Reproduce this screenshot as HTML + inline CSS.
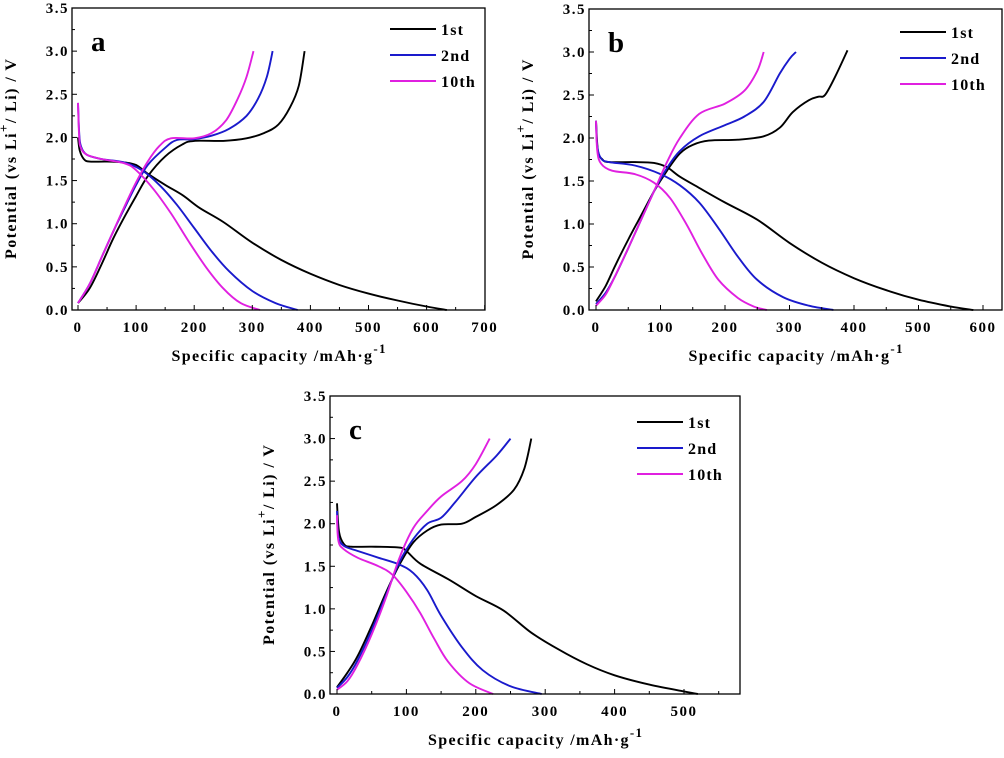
<!DOCTYPE html>
<html><head><meta charset="utf-8"><style>
body{margin:0;background:#fff;}
svg{display:block;font-family:"Liberation Serif",serif;font-weight:bold;}
</style></head><body>
<svg id="fig" width="1004" height="758" viewBox="0 0 1004 758" xmlns="http://www.w3.org/2000/svg"></svg>
<script>
// Panel a data
const aD1=[[0,2.0],[3,1.85],[10,1.75],[20,1.72],[50,1.72],[80,1.71],[100,1.68],[120,1.58],[150,1.45],[180,1.33],[210,1.18],[250,1.02],[300,0.78],[350,0.58],[400,0.42],[450,0.29],[500,0.19],[550,0.11],[600,0.04],[635,0]];
const aD2=[[0,2.4],[2,2.05],[5,1.9],[15,1.8],[40,1.75],[80,1.71],[110,1.62],[140,1.45],[170,1.22],[200,0.95],[230,0.68],[260,0.45],[300,0.22],[340,0.08],[378,0]];
const aD10=[[0,2.4],[2,2.0],[5,1.88],[15,1.8],[40,1.75],[80,1.7],[100,1.62],[130,1.4],[160,1.12],[190,0.8],[220,0.5],[250,0.25],[280,0.08],[313,0]];
const aC1=[[0,0.08],[20,0.25],[40,0.52],[60,0.82],[80,1.08],[100,1.32],[120,1.55],[150,1.78],[180,1.92],[200,1.96],[250,1.96],[290,1.99],[320,2.05],[345,2.15],[365,2.35],[380,2.6],[390,3.0]];
const aC2=[[0,0.08],[20,0.3],[40,0.6],[60,0.9],[80,1.18],[100,1.45],[120,1.68],[150,1.88],[170,1.97],[200,1.98],[230,2.02],[260,2.1],[290,2.25],[310,2.45],[325,2.7],[335,3.0]];
const aC10=[[0,0.08],[20,0.3],[40,0.6],[60,0.9],[80,1.2],[100,1.48],[120,1.72],[140,1.9],[160,1.99],[200,1.99],[230,2.05],[255,2.2],[275,2.45],[290,2.7],[302,3.0]];
// Panel b data
const bD1=[[0,2.2],[3,1.85],[10,1.75],[20,1.72],[60,1.72],[90,1.71],[110,1.66],[130,1.55],[160,1.42],[200,1.25],[250,1.05],[300,0.78],[350,0.55],[400,0.37],[450,0.23],[500,0.12],[550,0.04],[585,0]];
const bD2=[[0,2.2],[2,1.9],[8,1.76],[20,1.72],[60,1.68],[100,1.58],[130,1.45],[160,1.25],[190,0.95],[220,0.62],[250,0.35],[290,0.15],[330,0.05],[368,0]];
const bD10=[[0,2.2],[2,1.85],[8,1.7],[25,1.62],[60,1.58],[90,1.48],[115,1.3],[140,1.0],[165,0.65],[190,0.35],[220,0.14],[245,0.04],[265,0]];
const bC1=[[0,0.1],[15,0.28],[30,0.52],[50,0.82],[70,1.1],[90,1.38],[110,1.62],[130,1.82],[150,1.92],[175,1.97],[220,1.98],[260,2.02],[285,2.12],[305,2.3],[330,2.44],[345,2.48],[355,2.5],[370,2.7],[390,3.02]];
const bC2=[[0,0.07],[15,0.2],[30,0.4],[50,0.72],[70,1.05],[90,1.38],[110,1.65],[130,1.85],[160,2.02],[200,2.15],[230,2.25],[260,2.42],[285,2.75],[300,2.92],[310,3.0]];
const bC10=[[0,0.05],[15,0.18],[30,0.4],[50,0.72],[70,1.05],[90,1.38],[110,1.72],[130,2.0],[160,2.28],[200,2.4],[230,2.55],[250,2.78],[260,3.0]];
// Panel c data
const cD1=[[0,2.24],[3,1.9],[10,1.76],[20,1.73],[50,1.73],[90,1.72],[100,1.68],[120,1.53],[160,1.35],[200,1.15],[240,0.98],[280,0.72],[320,0.52],[360,0.35],[400,0.22],[450,0.11],[500,0.03],[520,0]];
const cD2=[[0,2.15],[2,1.85],[10,1.74],[30,1.68],[60,1.6],[90,1.52],[110,1.42],[130,1.22],[150,0.92],[180,0.55],[210,0.28],[250,0.09],[295,0]];
const cD10=[[0,2.1],[2,1.8],[10,1.7],[30,1.6],[60,1.5],[80,1.4],[100,1.2],[120,0.95],[140,0.65],[160,0.38],[190,0.13],[225,0]];
const cC1=[[0,0.08],[15,0.25],[30,0.45],[50,0.8],[70,1.18],[90,1.52],[110,1.78],[130,1.92],[150,1.99],[180,2.0],[200,2.08],[230,2.22],[255,2.4],[270,2.65],[280,3.0]];
const cC2=[[0,0.07],[15,0.2],[30,0.4],[50,0.75],[70,1.15],[90,1.55],[110,1.82],[130,2.0],[150,2.07],[170,2.25],[200,2.55],[230,2.8],[250,3.0]];
const cC10=[[0,0.05],[15,0.15],[30,0.35],[50,0.7],[70,1.12],[90,1.6],[110,1.95],[130,2.15],[150,2.32],[180,2.5],[200,2.7],[220,3.0]];

const yTicks=[0,0.5,1.0,1.5,2.0,2.5,3.0,3.5];
const aXTicks=[0,100,200,300,400,500,600,700];
const bXTicks=[0,100,200,300,400,500,600];
const cXTicks=[0,100,200,300,400,500];
const legendLabels=["1st","2nd","10th"];
const colors=["#000000","#1a1acc","#e020e0"];

const NS="http://www.w3.org/2000/svg";
const svg=document.getElementById('fig');
function mk(tag,attrs,parent){const e=document.createElementNS(NS,tag);for(const k in attrs)e.setAttribute(k,attrs[k]);(parent||svg).appendChild(e);return e;}
function smooth(pts){let d="M"+pts[0][0].toFixed(1)+","+pts[0][1].toFixed(1);
 for(let i=0;i<pts.length-1;i++){const p0=pts[i-1]||pts[i],p1=pts[i],p2=pts[i+1],p3=pts[i+2]||p2;
  const c1=[p1[0]+(p2[0]-p0[0])/6,p1[1]+(p2[1]-p0[1])/6],c2=[p2[0]-(p3[0]-p1[0])/6,p2[1]-(p3[1]-p1[1])/6];
  d+=" C"+c1.map(v=>v.toFixed(1))+" "+c2.map(v=>v.toFixed(1))+" "+p2.map(v=>v.toFixed(1));}
 return d;}

function panel(o){
 const g=mk('g',{});
 
 
 const sx=v=>o.x0px+(v)*(o.x100)/100, sy=v=>o.bottom-(v/3.5)*(o.bottom-o.top);
 const names=["1st","2nd","10th"];
 o.series.forEach((pair,i)=>{pair.forEach((arr,j)=>{
  const p=mk('path',{d:smooth(arr.map(q=>[sx(q[0]),sy(q[1])])),fill:'none',stroke:colors[i],'stroke-width':1.9},g);
  
  
 });});
 const fr=mk('rect',{x:o.left,y:o.top,width:o.right-o.left,height:o.bottom-o.top,fill:'none',stroke:'#000','stroke-width':1.3},g);
 
 
 yTicks.forEach((t,k)=>{const y=sy(t);
  mk('line',{x1:o.left,x2:o.left+5,y1:y,y2:y,stroke:'#000','stroke-width':1},g);
  if(k<yTicks.length-1){const ym=sy(t+0.25);mk('line',{x1:o.left,x2:o.left+3,y1:ym,y2:ym,stroke:'#000','stroke-width':1},g);}
  const tx=mk('text',{x:o.left-3,y:y+5,'text-anchor':'end','font-size':15,'letter-spacing':1.5},g);tx.textContent=t.toFixed(1);
  
  
 });
 o.xticks.forEach((t,k)=>{const x=sx(t);
  mk('line',{x1:x,x2:x,y1:o.bottom,y2:o.bottom-5,stroke:'#000','stroke-width':1},g);
  const xm=sx(t+50); if(xm<o.right) mk('line',{x1:xm,x2:xm,y1:o.bottom,y2:o.bottom-3,stroke:'#000','stroke-width':1},g);
  const tx=mk('text',{x:x,y:o.bottom+22,'text-anchor':'middle','font-size':15,'letter-spacing':1.5},g);tx.textContent=t;
  
  
 });
 const xt=mk('text',{x:(o.left+o.right)/2-107,y:o.bottom+51,'font-size':16,textLength:214,lengthAdjust:'spacing'},g);
 xt.innerHTML='Specific capacity /mAh·g<tspan dy="-8" font-size="13">-1</tspan>';
 
 
 const cy=(o.top+o.bottom)/2, cx=o.left-56;
 const yt=mk('text',{x:cx-100,y:cy,'font-size':16,textLength:200,lengthAdjust:'spacing',transform:`rotate(-90 ${cx} ${cy})`},g);
 yt.innerHTML='Potential (vs  Li<tspan dy="-8" font-size="13">+</tspan><tspan dy="8">/ Li) / V</tspan>';
 
 
 const lt=mk('text',{x:o.left+19,y:o.top+43,'font-size':29},g);lt.textContent=o.letter;
 
 
 legendLabels.forEach((l,i)=>{const y=o.legY+i*26;
  const ln=mk('line',{x1:o.legX,x2:o.legX+46,y1:y,y2:y,stroke:colors[i],'stroke-width':2},g);
  
  
  const t=mk('text',{x:o.legX+51,y:y+6,'font-size':16,'letter-spacing':1.2},g);t.textContent=l;
  
  
 });
}
panel({letter:'a',left:72,right:485,top:8,bottom:310,x0px:78,x100:58.1,xticks:aXTicks,legX:390,legY:29,
 series:[[aD1,aC1],[aD2,aC2],[aD10,aC10]]});
panel({letter:'b',left:589,right:1002,top:9,bottom:310,x0px:596,x100:64.5,xticks:bXTicks,legX:900,legY:32,
 series:[[bD1,bC1],[bD2,bC2],[bD10,bC10]]});
panel({letter:'c',left:330,right:740,top:396,bottom:694,x0px:337,x100:69.4,xticks:cXTicks,legX:637,legY:422,
 series:[[cD1,cC1],[cD2,cC2],[cD10,cC10]]});
</script>
</body></html>
